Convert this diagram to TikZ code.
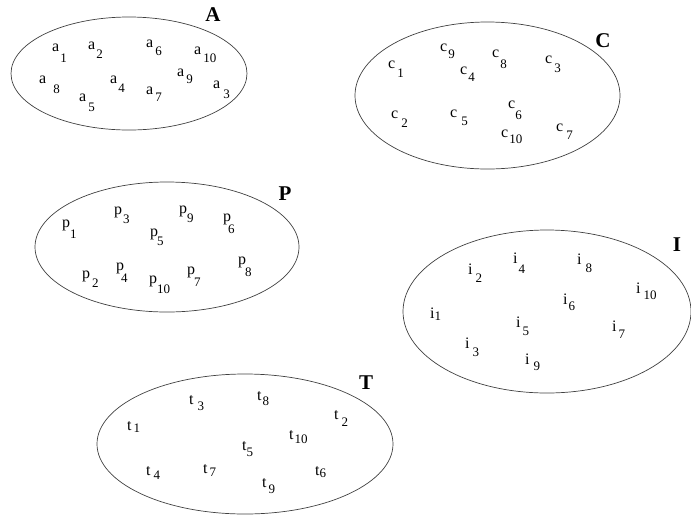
\documentclass[tikz,border=0pt]{standalone}
\usepackage{fontspec}
\setmainfont{Liberation Serif}
\newcommand{\subfont}{\fontsize{13}{15}\selectfont}
% letter, index, gap, drop of the index
\newcommand{\el}[4]{#1\kern#3pt\raisebox{-#4pt}{\subfont #2}}

\begin{document}
\begin{tikzpicture}[x=1pt, y=-1pt,
  set/.style={draw=black!75, line width=0.7pt},
  elem/.style={anchor=base west, inner sep=0pt, font=\fontsize{16}{18}\selectfont},
  setname/.style={inner sep=0pt, font=\fontsize{21}{24}\selectfont\bfseries}]

\useasboundingbox (0,0) rectangle (691,515);

\draw[set] (129,73.5) ellipse [x radius=118pt, y radius=56.5pt];
\draw[set] (487.5,95.5) ellipse [x radius=132.5pt, y radius=73.5pt];
\draw[set] (167,247) ellipse [x radius=132pt, y radius=65pt];
\draw[set] (547,311.5) ellipse [x radius=144pt, y radius=81.5pt];
\draw[set] (245,444) ellipse [x radius=148pt, y radius=70pt];

\node (A) at (213,15) [setname] {A};
\node (C) at (603,41) [setname] {C};
\node (P) at (285,194) [setname] {P};
\node (I) at (677,245) [setname] {I};
\node (T) at (366,383) [setname] {T};

%% set A
\node (a1) at (52,51) [elem] {\el{a}{1}{1}{11}};
\node (a2) at (88,49) [elem] {\el{a}{2}{1}{9}};
\node (a6) at (146,47) [elem] {\el{a}{6}{2}{8}};
\node (a10) at (194,54) [elem] {\el{a}{10}{2}{8}};
\node (a9) at (177,76) [elem] {\el{a}{9}{2}{7}};
\node (a8) at (39,83) [elem] {\el{a}{8}{7}{10}};
\node (a4) at (110,83) [elem] {\el{a}{4}{1}{9}};
\node (a3) at (213,88) [elem] {\el{a}{3}{3}{10}};
\node (a7) at (146,94) [elem] {\el{a}{7}{2}{7}};
\node (a5) at (79,101) [elem] {\el{a}{5}{2}{10}};

%% set C
\node (c1) at (388,68) [elem] {\el{c}{1}{2}{9}};
\node (c9) at (440,51) [elem] {\el{c}{9}{1}{7}};
\node (c4) at (460,74) [elem] {\el{c}{4}{1}{7}};
\node (c8) at (492,57) [elem] {\el{c}{8}{1}{11}};
\node (c3) at (545,63) [elem] {\el{c}{3}{2}{9}};
\node (c2) at (391,118) [elem] {\el{c}{2}{3}{9}};
\node (c5) at (450,117) [elem] {\el{c}{5}{4}{8}};
\node (c6) at (508,108) [elem] {\el{c}{6}{0}{11}};
\node (c10) at (501,137) [elem] {\el{c}{10}{1}{6}};
\node (c7) at (556,131) [elem] {\el{c}{7}{3}{8}};

%% set P
\node (p1) at (62,227) [elem] {\el{p}{1}{0}{11}};
\node (p3) at (114,214) [elem] {\el{p}{3}{1}{9}};
\node (p5) at (150,236) [elem] {\el{p}{5}{-1}{9}};
\node (p9) at (179,213) [elem] {\el{p}{9}{0}{9}};
\node (p6) at (223,221) [elem] {\el{p}{6}{-3}{12}};
\node (p2) at (82,278) [elem] {\el{p}{2}{2}{9}};
\node (p4) at (116,270) [elem] {\el{p}{4}{-3}{12}};
\node (p10) at (149,283) [elem] {\el{p}{10}{0}{10}};
\node (p7) at (187,274) [elem] {\el{p}{7}{-1}{12}};
\node (p8) at (238,264) [elem] {\el{p}{8}{-1}{12}};

%% set I
\node (i2) at (468,274) [elem] {\el{i}{2}{3}{8}};
\node (i4) at (513,263) [elem] {\el{i}{4}{1}{10}};
\node (i8) at (577,264) [elem] {\el{i}{8}{4}{8}};
\node (i10) at (636,293) [elem] {\el{i}{10}{3}{6}};
\node (i6) at (563,304) [elem] {\el{i}{6}{1}{6}};
\node (i1) at (430,318) [elem] {\el{i}{1}{0}{2}};
\node (i5) at (516,327) [elem] {\el{i}{5}{2}{8}};
\node (i7) at (612,331) [elem] {\el{i}{7}{2}{7}};
\node (i3) at (465,348) [elem] {\el{i}{3}{3}{8}};
\node (i9) at (525,364) [elem] {\el{i}{9}{4}{6}};

%% set T
\node (t1) at (127,430) [elem] {\el{t}{1}{2}{2}};
\node (t3) at (189,404) [elem] {\el{t}{3}{4}{6}};
\node (t8) at (257,400) [elem] {\el{t}{8}{1}{5}};
\node (t2) at (334,419) [elem] {\el{t}{2}{3}{7}};
\node (t10) at (289,439) [elem] {\el{t}{10}{1}{4}};
\node (t5) at (242,450) [elem] {\el{t}{5}{0}{6}};
\node (t4) at (146,475) [elem] {\el{t}{4}{3}{4}};
\node (t7) at (203,473) [elem] {\el{t}{7}{2}{3}};
\node (t6) at (315,475) [elem] {\el{t}{6}{0}{2}};
\node (t9) at (262,487) [elem] {\el{t}{9}{2}{6}};

\end{tikzpicture}
\end{document}
